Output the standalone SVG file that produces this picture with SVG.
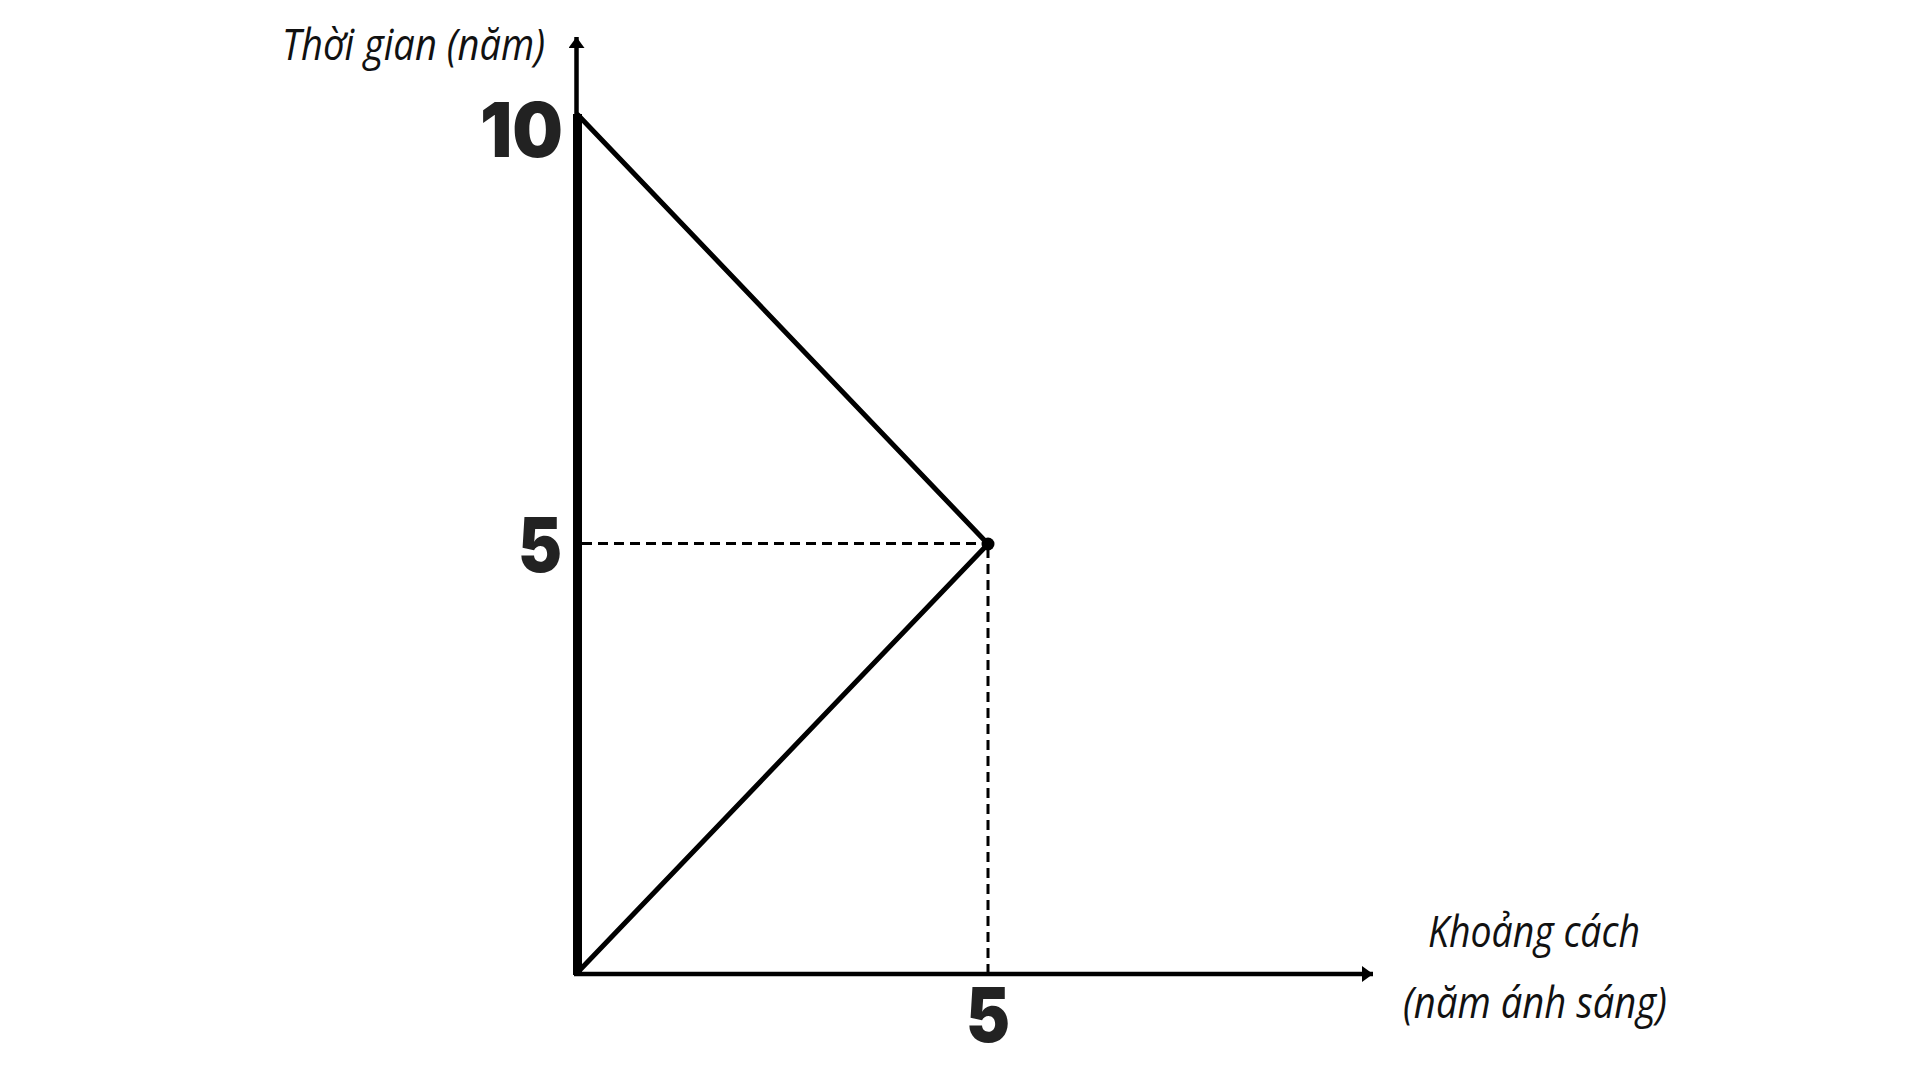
<svg xmlns="http://www.w3.org/2000/svg" width="1920" height="1080" viewBox="0 0 1920 1080">
<style>
.lbl{font-family:"Open Sans","Noto Sans","DejaVu Sans",sans-serif;font-style:italic;font-weight:400;font-size:44px;fill:#111}
.num{font-family:Inter,"Liberation Sans",sans-serif;font-weight:900;font-size:76px;fill:#222}
.ax{stroke:#000;stroke-width:4.5;fill:none}
.wl{stroke:#000;stroke-width:5;fill:none;stroke-linecap:round}
.dash{stroke:#000;stroke-width:3;stroke-dasharray:10 6;fill:none}
</style>
<defs>
<marker id="arr" markerUnits="userSpaceOnUse" markerWidth="16" markerHeight="16" refX="11" refY="8" orient="auto">
<path d="M0,0 L11,8 L0,16 Z" fill="#000"/>
</marker>
</defs>
<rect width="1920" height="1080" fill="#fff"/>
<g id="connectors">
<line id="y-axis" class="ax" x1="576.5" y1="974" x2="576.5" y2="37" marker-end="url(#arr)"/>
<line id="x-axis" class="ax" x1="574" y1="974" x2="1373" y2="974" marker-end="url(#arr)"/>
<line id="worldline-stay" x1="577.5" y1="975" x2="577.5" y2="114" stroke="#000" stroke-width="9"/>
<line id="out" class="wl" x1="577" y1="973" x2="988" y2="544"/>
<line id="back" class="wl" x1="988" y1="544" x2="578" y2="115"/>
<line id="h-dash" class="dash" x1="582" y1="543.5" x2="988" y2="543.5"/>
<line id="v-dash" class="dash" x1="988" y1="548" x2="988" y2="972"/>
</g>
<g id="turn-point"><circle cx="988" cy="544" r="6.5" fill="#000"/></g>
<g id="y-label"><text class="lbl" x="282" y="60" textLength="263" lengthAdjust="spacingAndGlyphs">Thời gian (năm)</text></g>
<g id="x-label">
<text class="lbl" x="1428" y="947" textLength="212" lengthAdjust="spacingAndGlyphs">Khoảng cách</text>
<text class="lbl" x="1403" y="1018" textLength="264" lengthAdjust="spacingAndGlyphs">(năm ánh sáng)</text>
</g>
<g id="tick-10"><text class="num" x="480" y="157" textLength="83" lengthAdjust="spacingAndGlyphs">10</text></g>
<g id="tick-5y"><text class="num" x="518" y="572" textLength="44" lengthAdjust="spacingAndGlyphs">5</text></g>
<g id="tick-5x"><text class="num" x="966" y="1042" textLength="44" lengthAdjust="spacingAndGlyphs">5</text></g>
</svg>
